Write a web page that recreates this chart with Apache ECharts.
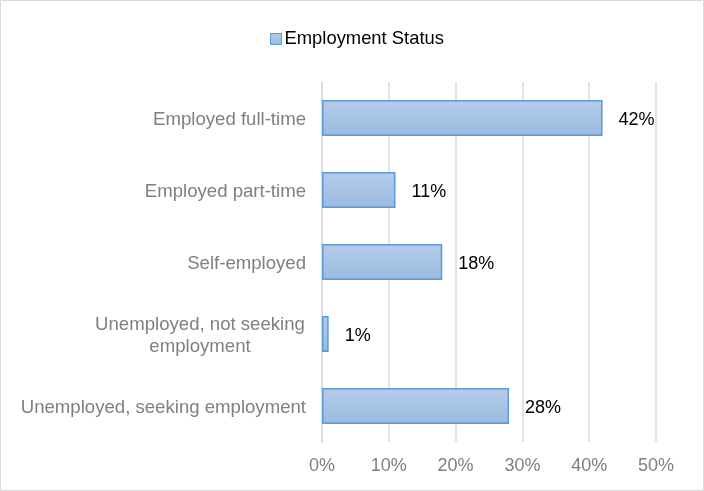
<!DOCTYPE html>
<html><head><meta charset="utf-8">
<script src="https://cdn.jsdelivr.net/npm/echarts@6/dist/echarts.min.js"></script>
<style>html,body{margin:0;padding:0;background:#fff}#c{width:704px;height:491px}</style>
</head><body><div id="c"></div>
<script>
const categories = ['Employed full-time','Employed part-time','Self-employed','Unemployed, not seeking employment','Unemployed, seeking employment'];
const values = [42, 11, 18, 1, 28];
const seriesName = 'Employment Status';
const xTicks = [0, 10, 20, 30, 40, 50];

const FF = 'Liberation Sans, Arial, sans-serif';
const fill = new echarts.graphic.LinearGradient(0,0,0,1,[{offset:0,color:'#b3cdea'},{offset:1,color:'#9bbae0'}]);
const chart = echarts.init(document.getElementById('c'));
chart.setOption({
  animation:false,
  textStyle:{fontFamily:FF},
  graphic:[{type:'rect',shape:{x:0.5,y:0.5,width:703,height:490},style:{fill:'none',stroke:'#d9d9d9',lineWidth:1},silent:true}],
  legend:{top:25,left:265,itemWidth:11,itemHeight:11,itemGap:10,
    textStyle:{fontSize:18.4,color:'#000',fontFamily:FF,padding:[0,0,0,-2]},
    data:[{name:seriesName,icon:'rect',itemStyle:{color:fill,borderColor:'#5b9bd5',borderWidth:1}}]},
  grid:{left:322,right:48,top:82,bottom:49,containLabel:false},
  xAxis:{type:'value',min:xTicks[0],max:xTicks[xTicks.length-1],interval:10,
    axisLine:{show:false},axisTick:{show:false},
    splitLine:{lineStyle:{color:'#d9d9d9',width:1.5}},
    axisLabel:{formatter:v=>v+'%',fontSize:18,color:'#808080',margin:15}},
  yAxis:{type:'category',inverse:true,data:categories,
    axisLine:{show:true,lineStyle:{color:'#d9d9d9',width:1.5}},axisTick:{show:false},
    axisLabel:{fontSize:18.6,color:'#808080',margin:16,padding:[3,0,0,0],
      formatter:function(v){
        if(v==='Unemployed, not seeking employment') return '{c|Unemployed, not seeking}\n{c|employment}';
        return v;
      },
      rich:{c:{fontSize:18.6,color:'#808080',width:212,align:'center',lineHeight:22,fontFamily:FF}}}},
  series:[{name:seriesName,type:'bar',data:values,barWidth:36,
    itemStyle:{color:fill,borderColor:'#5b9bd5',borderWidth:1.5},
    label:{show:true,position:'right',distance:16,offset:[0,2],formatter:p=>p.value+'%',fontSize:18,color:'#000',fontFamily:FF}}]
});
</script></body></html>
